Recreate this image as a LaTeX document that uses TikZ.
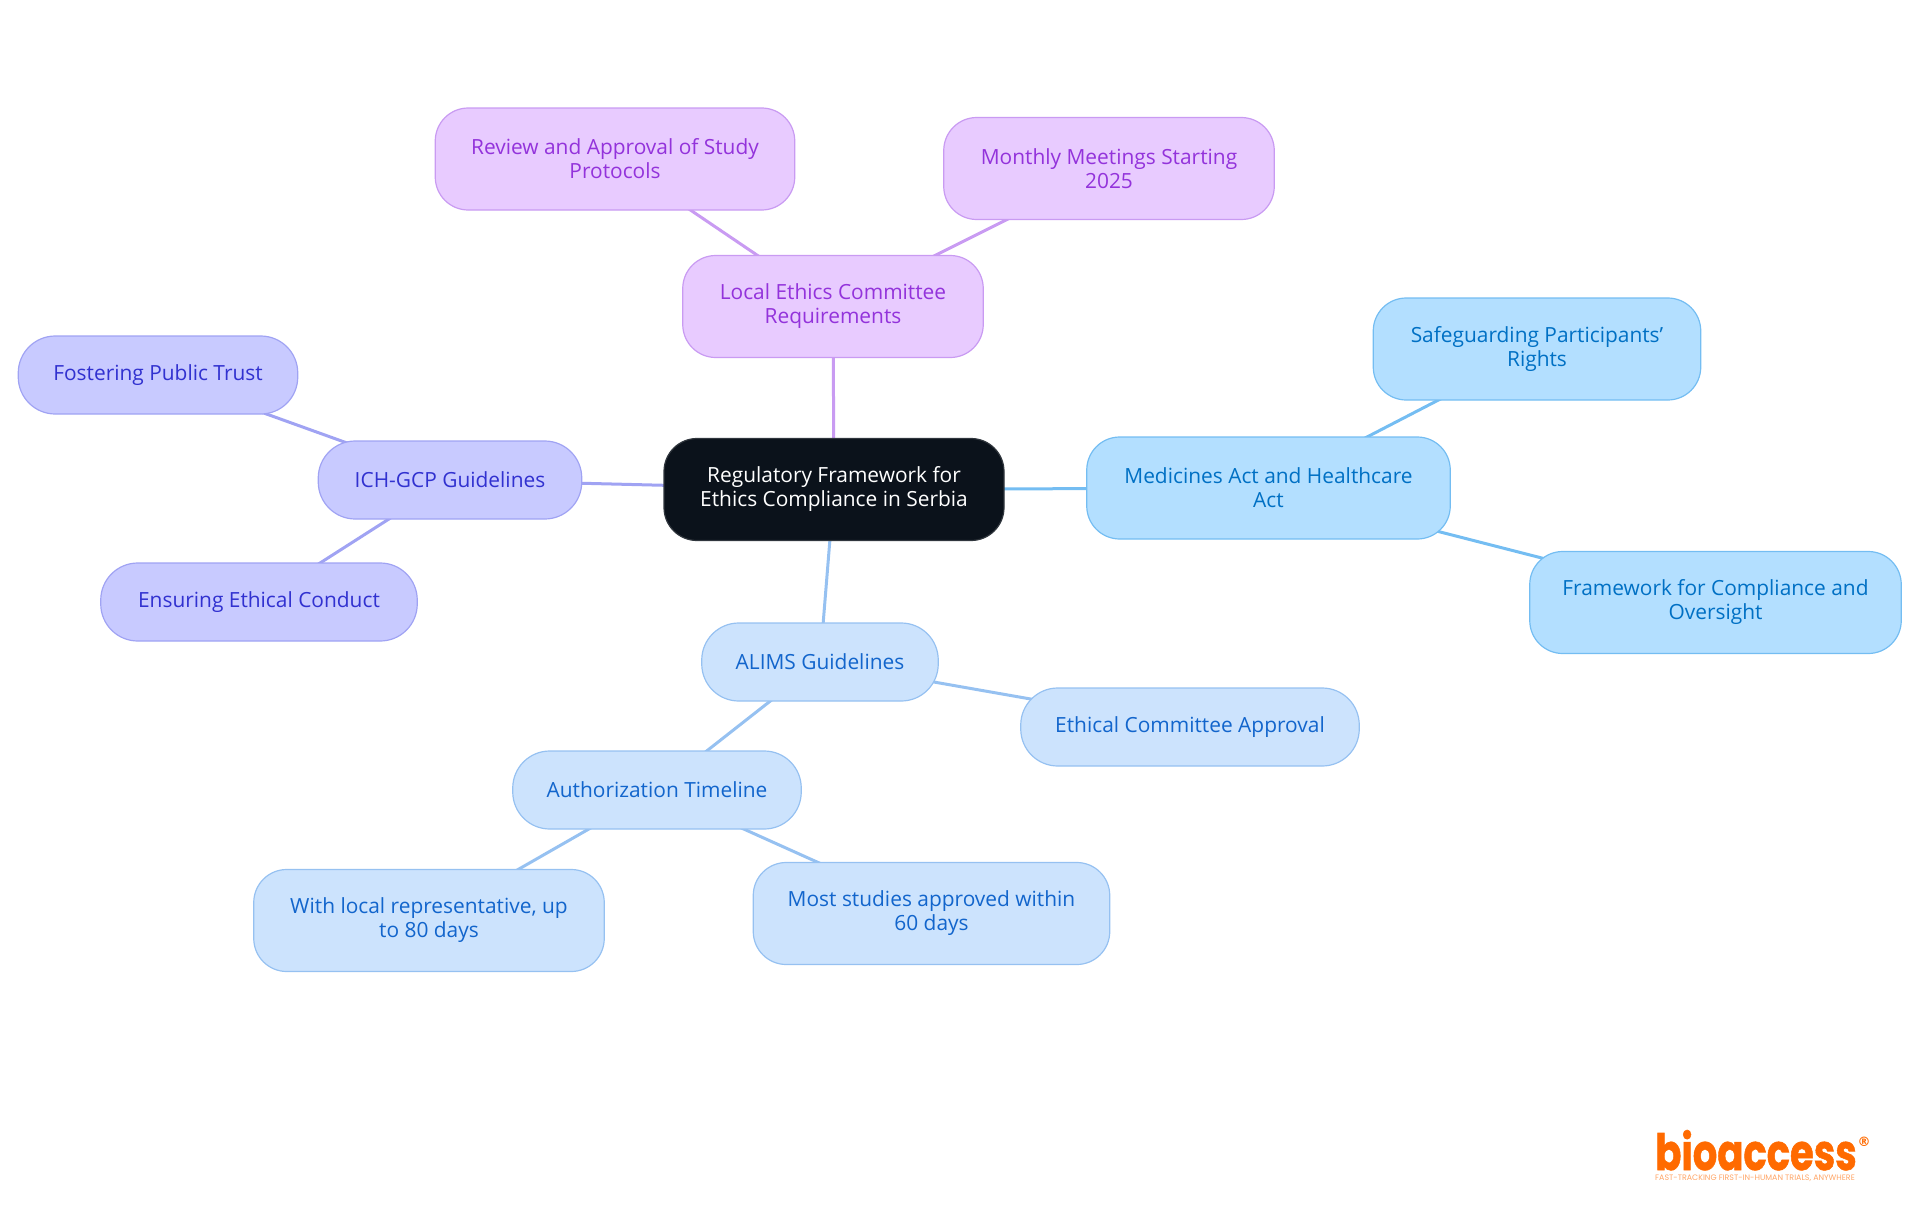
\documentclass[tikz,border=0pt]{standalone}
\usepackage{fontspec}
\setmainfont{Open Sans}
\newfontfamily\logofont[BoldFeatures={FakeBold=1.2}]{Poppins}
\newfontfamily\markfont{DejaVu Sans}
\usetikzlibrary{backgrounds}
\definecolor{rootfill}{HTML}{0B121B}
\definecolor{lilacfill}{HTML}{E8CBFF}
\definecolor{lilacline}{HTML}{C99BF2}
\definecolor{lilactext}{HTML}{9333DB}
\definecolor{skyfill}{HTML}{B3DFFF}
\definecolor{skyline}{HTML}{74BDF2}
\definecolor{skytext}{HTML}{0070C4}
\definecolor{bluefill}{HTML}{CCE3FD}
\definecolor{blueline}{HTML}{96C1F1}
\definecolor{bluetext}{HTML}{1265CC}
\definecolor{indigofill}{HTML}{C8CAFF}
\definecolor{indigoline}{HTML}{A0A3F3}
\definecolor{indigotext}{HTML}{3131D0}
\definecolor{logoorange}{HTML}{FF6A00}
\tikzset{
  mapbox/.style={draw,rounded corners=33pt,inner sep=0pt,align=center,line width=1.2pt,
    font=\fontsize{20.9}{24}\selectfont},
  tall/.style={minimum height=102pt},
  short/.style={minimum height=78pt,rounded corners=37pt},
  rootbox/.style={mapbox,tall,fill=rootfill,draw=rootfill!85!white,text=white},
  lilacbox/.style={mapbox,tall,fill=lilacfill,draw=lilacline,text=lilactext},
  skybox/.style={mapbox,tall,fill=skyfill,draw=skyline,text=skytext},
  bluebox/.style={mapbox,fill=bluefill,draw=blueline,text=bluetext},
  indigobox/.style={mapbox,short,fill=indigofill,draw=indigoline,text=indigotext},
  lilacedge/.style={draw=lilacline,line width=3pt},
  skyedge/.style={draw=skyline,line width=3pt},
  blueedge/.style={draw=blueline,line width=3pt},
  indigoedge/.style={draw=indigoline,line width=3pt},
}
\begin{document}
\begin{tikzpicture}[x=1pt,y=-1pt]
    \useasboundingbox (0,0) rectangle (1920,1215);

    \node[rootbox,minimum width=340pt] (root) at (834,489.5) {Regulatory Framework for\\Ethics Compliance in Serbia};

    \node[lilacbox,minimum width=300.5pt] (ethics) at (833,306.5) {Local Ethics Committee\\Requirements};
    \node[lilacbox,minimum width=359.5pt] (review) at (615,159) {Review and Approval of Study\\Protocols};
    \node[lilacbox,minimum width=330.5pt] (monthly) at (1109,168.5) {Monthly Meetings Starting\\2025};

    \node[skybox,minimum width=363.5pt] (medicines) at (1268.5,488) {Medicines Act and Healthcare\\Act};
    \node[skybox,minimum width=327.5pt] (rights) at (1537,349) {Safeguarding Participants'\\Rights};
    \node[skybox,minimum width=371.5pt] (oversight) at (1715.5,602.5) {Framework for Compliance and\\Oversight};

    \node[indigobox,minimum width=263.5pt] (ich) at (450,480) {ICH-GCP Guidelines};
    \node[indigobox,minimum width=279.5pt] (trust) at (158,375) {Fostering Public Trust};
    \node[indigobox,minimum width=316.5pt] (conduct) at (259,602) {Ensuring Ethical Conduct};

    \node[bluebox,short,minimum width=236.5pt] (alims) at (820,662) {ALIMS Guidelines};
    \node[bluebox,short,minimum width=338.5pt] (approval) at (1190,727) {Ethical Committee Approval};
    \node[bluebox,short,minimum width=288.5pt] (timeline) at (657,790) {Authorization Timeline};
    \node[bluebox,tall,minimum width=350.5pt] (local) at (429,920.5) {With local representative, up\\to 80 days};
    \node[bluebox,tall,minimum width=356.5pt] (sixty) at (931.5,913.5) {Most studies approved within\\60 days};

    \begin{pgfonlayer}{background}
        \draw[lilacedge] (root.center) -- (ethics.center);
        \draw[lilacedge] (ethics.center) -- (review.center);
        \draw[lilacedge] (ethics.center) -- (monthly.center);

        \draw[skyedge] (root.center) -- (medicines.center);
        \draw[skyedge] (medicines.center) -- (rights.center);
        \draw[skyedge] (medicines.center) -- (oversight.center);

        \draw[indigoedge] (root.center) -- (ich.center);
        \draw[indigoedge] (ich.center) -- (trust.center);
        \draw[indigoedge] (ich.center) -- (conduct.center);

        \draw[blueedge] (root.center) -- (alims.center);
        \draw[blueedge] (alims.center) -- (approval.center);
        \draw[blueedge] (alims.center) -- (timeline.center);
        \draw[blueedge] (timeline.center) -- (local.center);
        \draw[blueedge] (timeline.center) -- (sixty.center);
    \end{pgfonlayer}

    % logo
    \node[anchor=base,inner sep=0pt,text=logoorange,font=\logofont\bfseries\fontsize{50}{50}\selectfont] (logo) at (1756,1170) {\scalebox{0.77}[1]{bioaccess}};
    \node[inner sep=0pt,text=logoorange,font=\markfont\bfseries\fontsize{13}{13}\selectfont] (mark) at (1864,1142) {®};
    \node[inner sep=0pt,text=logoorange!60!white,font=\logofont\fontsize{7.9}{8}\selectfont] (tagline) at (1755,1178) {FAST-TRACKING FIRST-IN-HUMAN TRIALS, ANYWHERE};
\end{tikzpicture}
\end{document}
